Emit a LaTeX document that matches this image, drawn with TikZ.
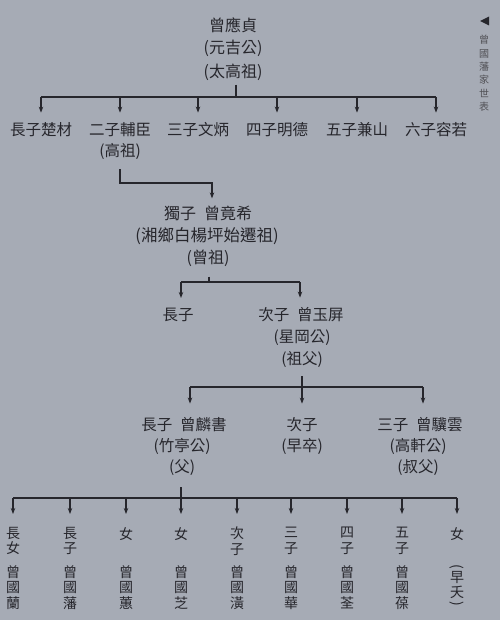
\documentclass[tikz,border=0pt]{standalone}
\usepackage{fontspec}
\setmainfont{Noto Sans CJK TC}
\usetikzlibrary{arrows.meta}
\definecolor{bg}{RGB}{166,171,181}
\definecolor{ink}{RGB}{38,38,44}
\begin{document}
\begin{tikzpicture}[x=1pt,y=-1pt,
  big/.style={text=ink,inner sep=0pt,font=\fontsize{16}{16}\selectfont},
  lbl/.style={text=ink,inner sep=0pt,font=\fontsize{15.5}{15.5}\selectfont},
  vert/.style={text=ink,inner sep=0pt,align=center,anchor=north,font=\fontsize{14}{15.5}\selectfont},
  link/.style={draw=ink,line width=1.1pt},
  arr/.style={link,-{Stealth[length=6pt,width=4.5pt]}}]
\fill[bg] (0,0) rectangle (500,620);
\useasboundingbox (0,0) rectangle (500,620);

% side title
\fill[ink] (480,21) -- (489,16.5) -- (489,25.5) -- cycle;
\node[text=ink!80,inner sep=0pt,align=center,anchor=north,font=\fontsize{10}{13.4}\selectfont] (side) at (484,35) {曾\\國\\藩\\家\\世\\表};

% generation 1
\node[big] (g0) at (233,25) {曾應貞};
\node[big] (g0a) at (233,48) {(元吉公)};
\node[big] (g0b) at (233,72) {(太高祖)};

\node[lbl] (c1) at (41,130) {長子楚材};
\node[lbl] (c2) at (120,130) {二子輔臣};
\node[lbl] (c2b) at (120,151) {(高祖)};
\node[lbl] (c3) at (198,130) {三子文炳};
\node[lbl] (c4) at (277,130) {四子明德};
\node[lbl] (c5) at (357,130) {五子兼山};
\node[lbl] (c6) at (436,130) {六子容若};

\coordinate (b1) at (236,97);
\draw[link,shorten <=4pt] (g0b.south -| b1) -- (b1);
\draw[link] (c1.north |- b1) -- (c6.north |- b1);
\foreach \c in {c1,c2,c3,c4,c5,c6}
  \draw[arr,shorten >=10pt] (\c.north |- b1) -- (\c.north);

% generation 2
\node[big] (g2) at (208,213) {獨子\hspace{.5em}曾竟希};
\node[big,font=\fontsize{16.5}{16.5}\selectfont] (g2a) at (207,236) {(湘鄉白楊坪始遷祖)};
\node[big] (g2b) at (208,258) {(曾祖)};
\coordinate (j2) at (212,183);
\draw[arr,shorten <=10pt,shorten >=7pt] (c2b.south) |- (j2) -- (j2 |- g2.north);

% generation 3
\node[lbl] (d1) at (178,315) {長子};
\node[lbl] (d2) at (301,315) {次子\hspace{.5em}曾玉屏};
\node[lbl] (d2a) at (302,338) {(星岡公)};
\node[lbl] (d2b) at (302,360) {(祖父)};
\coordinate (b3) at (209,282);
\coordinate (l3) at (181,282);
\coordinate (r3) at (300,282);
\draw[link,shorten <=10pt] (g2b.south -| b3) -- (b3);
\draw[link] (l3) -- (r3);
\draw[arr,shorten >=10pt] (l3) -- (l3 |- d1.north);
\draw[arr,shorten >=10pt] (r3) -- (r3 |- d2.north);

% generation 4
\node[lbl] (e1) at (184,425) {長子\hspace{.5em}曾麟書};
\node[lbl] (e1a) at (182,446) {(竹亭公)};
\node[lbl] (e1b) at (182,468) {(父)};
\node[lbl] (e2) at (302,425) {次子};
\node[lbl] (e2a) at (302,446) {(早卒)};
\node[lbl] (e3) at (420,425) {三子\hspace{.5em}曾驥雲};
\node[lbl] (e3a) at (418,446) {(高軒公)};
\node[lbl] (e3b) at (418,468) {(叔父)};
\coordinate (b4) at (302,387);
\coordinate (l4) at (190,387);
\coordinate (r4) at (423,387);
\draw[link,shorten <=8pt] (d2b.south -| b4) -- (b4);
\draw[link] (l4) -- (r4);
\draw[arr,shorten >=14pt] (l4) -- (l4 |- e1.north);
\draw[arr,shorten >=14pt] (b4) -- (b4 |- e2.north);
\draw[arr,shorten >=14pt] (r4) -- (r4 |- e3.north);

% generation 5
\coordinate (b5) at (181,498);
\coordinate (t5) at (181,487);
\draw[arr] (t5) -- (181,514);
\draw[link] (13,498) -- (457,498);
\foreach \n/\x/\r/\m in {
  f1/13/長\\女/曾\\國\\蘭,
  f2/70/長\\子/曾\\國\\藩,
  f3/126/女/曾\\國\\蕙,
  f5/237/次\\子/曾\\國\\潢,
  f6/291/三\\子/曾\\國\\華,
  f7/347/四\\子/曾\\國\\荃,
  f8/402/五\\子/曾\\國\\葆}{
  \node[vert] (\n) at (\x,527) {\r};
  \node[vert] (\n m) at (\x,565) {\m};
  \draw[arr,shorten >=13pt] (\x,498) -- (\n.north);
}
\node[vert] (f4) at (181,527) {女};
\node[vert] (f4m) at (181,565) {曾\\國\\芝};
\node[vert] (f9) at (457,527) {女};
\draw[arr,shorten >=13pt] (457,498) -- (f9.north);
\node[text=ink,inner sep=0pt,rotate=-90,font=\fontsize{14}{14}\selectfont] (f9p) at (457,567) {(};
\node[vert,font=\fontsize{14}{14.5}\selectfont] (f9m) at (457,571.5) {早\\夭};
\node[text=ink,inner sep=0pt,rotate=-90,font=\fontsize{14}{14}\selectfont] (f9q) at (457,604) {)};
\end{tikzpicture}
\end{document}
